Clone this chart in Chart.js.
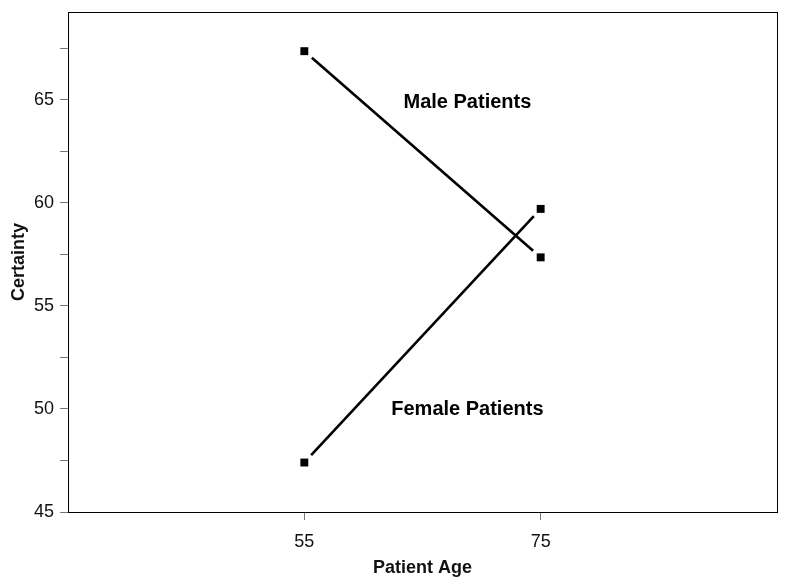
<!DOCTYPE html>
<html>
<head>
<meta charset="utf-8">
<script src="https://cdn.jsdelivr.net/npm/chart.js@4/dist/chart.umd.min.js"></script>
<style>
  html, body { margin: 0; padding: 0; background: #fff; }
  #wrap { width: 785px; height: 583px; }
</style>
</head>
<body>
<div id="wrap"><canvas id="chart" width="785" height="583"></canvas></div>
<script>
// data
var ages = [55, 75];
var malePatients = [67.35, 57.35];
var femalePatients = [47.4, 59.7];
var yTicks = [45, 47.5, 50, 52.5, 55, 57.5, 60, 62.5, 65, 67.5];
var xTicks = [55, 75];
var seriesLabels = ['Male Patients', 'Female Patients'];
var labelSpots = [[68.8, 64.85], [68.8, 49.95]];

function toPoints(xs, ys) {
    return xs.map(function (x, i) { return { x: x, y: ys[i] }; });
}

// box around the plot area
var frame = {
    id: 'frame',
    afterDraw: function (chart) {
        var a = chart.chartArea, ctx = chart.ctx;
        ctx.save();
        ctx.strokeStyle = '#000';
        ctx.lineWidth = 1;
        ctx.strokeRect(Math.round(a.left) + 0.5, Math.round(a.top) + 0.5,
            Math.round(a.right - a.left), Math.round(a.bottom - a.top));
        ctx.restore();
    }
};

// connecting segments, stopped short of the markers like the original
var gapLines = {
    id: 'gapLines',
    beforeDatasetsDraw: function (chart) {
        var ctx = chart.ctx;
        ctx.save();
        ctx.strokeStyle = '#000';
        ctx.lineWidth = 2.6;
        chart.data.datasets.forEach(function (ds, i) {
            var pts = chart.getDatasetMeta(i).data;
            for (var k = 0; k < pts.length - 1; k++) {
                var p = pts[k], q = pts[k + 1];
                var dx = q.x - p.x, dy = q.y - p.y;
                var len = Math.sqrt(dx * dx + dy * dy);
                var g = 10 / len;
                ctx.beginPath();
                ctx.moveTo(p.x + dx * g, p.y + dy * g);
                ctx.lineTo(q.x - dx * g, q.y - dy * g);
                ctx.stroke();
            }
        });
        ctx.restore();
    }
};

// the two text labels inside the plot
var seriesText = {
    id: 'seriesText',
    afterDatasetsDraw: function (chart) {
        var ctx = chart.ctx, xs = chart.scales.x, ys = chart.scales.y;
        ctx.save();
        ctx.fillStyle = '#000';
        ctx.font = 'bold 20px "Liberation Sans", Arial, sans-serif';
        ctx.textAlign = 'center';
        ctx.textBaseline = 'middle';
        seriesLabels.forEach(function (t, i) {
            ctx.fillText(t, xs.getPixelForValue(labelSpots[i][0]), ys.getPixelForValue(labelSpots[i][1]));
        });
        ctx.restore();
    }
};

var tickFont = { family: '"Liberation Sans", Arial, sans-serif', size: 18 };
var titleFont = { family: '"Liberation Sans", Arial, sans-serif', size: 18, weight: 'bold' };

new Chart(document.getElementById('chart'), {
    type: 'scatter',
    data: {
        datasets: [{
            label: seriesLabels[0],
            data: toPoints(ages, malePatients),
            pointStyle: 'rect',
            pointRadius: 5.6,
            backgroundColor: '#000',
            borderColor: '#000',
            borderWidth: 0,
            showLine: false
        }, {
            label: seriesLabels[1],
            data: toPoints(ages, femalePatients),
            pointStyle: 'rect',
            pointRadius: 5.6,
            backgroundColor: '#000',
            borderColor: '#000',
            borderWidth: 0,
            showLine: false
        }]
    },
    options: {
        responsive: false,
        animation: false,
        layout: { padding: { left: 6, top: 12, right: 8, bottom: 0 } },
        plugins: {
            legend: { display: false },
            tooltip: { enabled: false }
        },
        scales: {
            x: {
                type: 'linear',
                min: 35,
                max: 95,
                afterBuildTicks: function (s) {
                    s.ticks = xTicks.map(function (v) { return { value: v }; });
                },
                afterFit: function (s) { s.height = 71; s.paddingLeft = 0; s.paddingRight = 0; },
                border: { display: false },
                grid: { drawOnChartArea: false, drawTicks: true, tickLength: 8, color: '#777' },
                ticks: { font: tickFont, color: '#111', padding: 11, maxRotation: 0 },
                title: { display: true, text: 'Patient Age', font: titleFont, color: '#111', padding: { top: 2 } }
            },
            y: {
                min: 45,
                max: 69.25,
                afterBuildTicks: function (s) {
                    s.ticks = yTicks.map(function (v) { return { value: v }; });
                },
                afterFit: function (s) { s.width = 62; s.paddingTop = 0; s.paddingBottom = 0; },
                border: { display: false },
                grid: { drawOnChartArea: false, drawTicks: true, tickLength: 8, color: '#777' },
                ticks: {
                    font: tickFont, color: '#111', padding: 6,
                    callback: function (v) { return v % 5 === 0 ? String(v) : ''; }
                },
                title: { display: true, text: 'Certainty', font: titleFont, color: '#111', padding: { top: 2, bottom: 0 } }
            }
        }
    },
    plugins: [frame, gapLines, seriesText]
});
</script>
</body>
</html>
